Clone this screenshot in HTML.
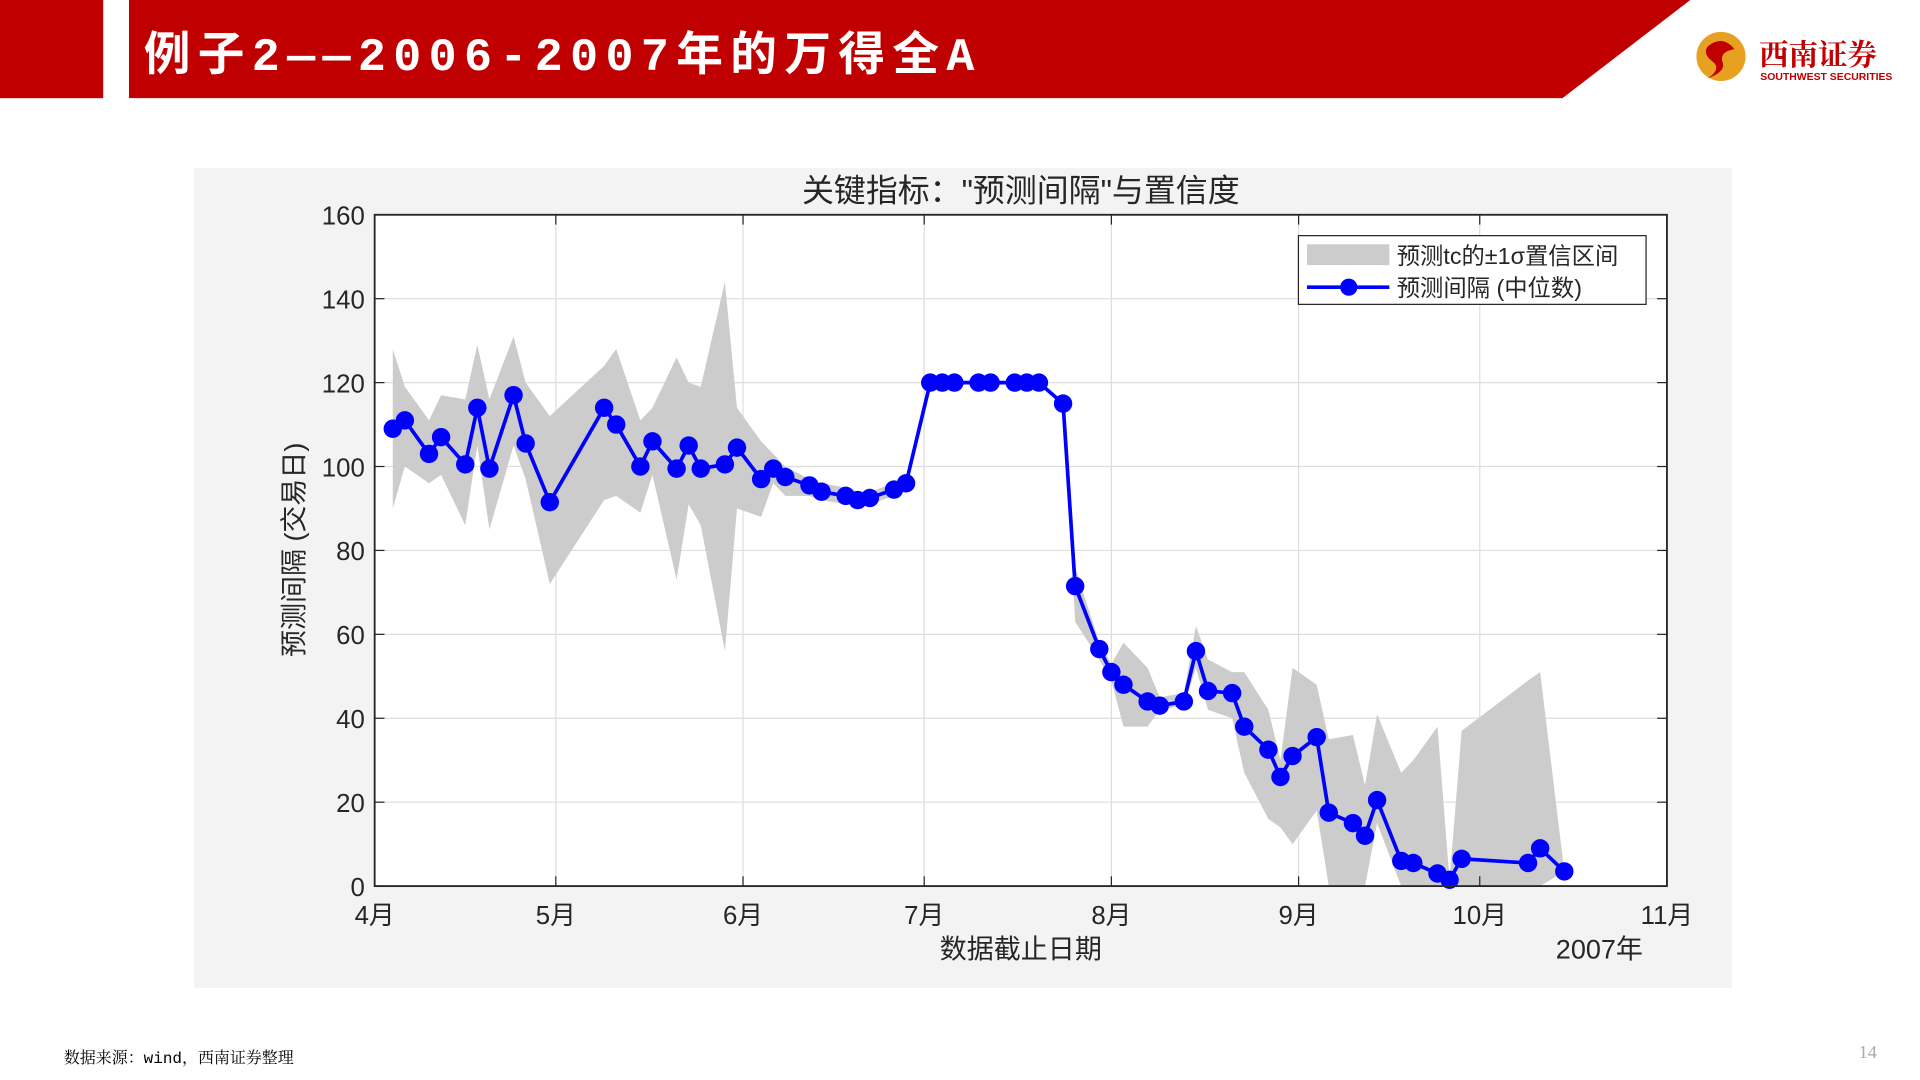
<!DOCTYPE html>
<html><head><meta charset="utf-8"><style>
html,body{margin:0;padding:0;background:#fff;width:1920px;height:1080px;overflow:hidden}
svg{display:block}
text{font-family:"Liberation Sans","Noto Sans CJK SC",sans-serif}
</style></head><body>
<svg id="s" width="1920" height="1080" viewBox="0 0 1563 880" preserveAspectRatio="none" xmlns="http://www.w3.org/2000/svg">
<rect x="0" y="0" width="84" height="80" fill="#c00000"/>
<polygon points="105,0 1376,0 1272,80 105,80" fill="#c00000"/>
<text x="117" y="57" font-size="38" font-weight="bold" fill="#fff" letter-spacing="6" style="font-family:'Liberation Mono','Noto Sans CJK SC',sans-serif">例子2——2006-2007年的万得全A</text>
<g>
<circle cx="1401" cy="46" r="20" fill="#e8a020"/>
<path d="M1390,38 q12,-10 22,2 q-12,2 -10,10 q4,8 -12,14 q12,-8 4,-14 q-8,-6 -4,-12z" fill="#c00000"/>
<text x="1432" y="53" font-size="24" font-weight="bold" fill="#c00000" style="font-family:'Noto Serif CJK SC',serif">西南证券</text>
<text x="1433" y="65" font-size="8.5" font-weight="bold" fill="#c00000">SOUTHWEST SECURITIES</text>
</g>
<rect x="158" y="137" width="1252" height="668" fill="#f3f3f3"/>
<text x="831" y="164" font-size="26" text-anchor="middle" fill="#262626">关键指标："预测间隔"与置信度</text>
<rect x="305" y="175" width="1052" height="547" fill="#fff"/>
<g id="grid"></g>
<g id="band"></g>
<g id="series"></g>
<rect x="305" y="175" width="1052" height="547" fill="none" stroke="#262626" stroke-width="1.5"/>
<g id="axes"></g>
<text transform="translate(247,448) rotate(-90)" font-size="22" text-anchor="middle" fill="#262626">预测间隔 (交易日)</text>
<text x="831" y="781" font-size="22" text-anchor="middle" fill="#262626">数据截止日期</text>
<text x="1302" y="781" font-size="22" text-anchor="middle" fill="#262626">2007年</text>
<g>
<rect x="1057" y="192" width="283" height="56" fill="#fff" stroke="#262626" stroke-width="1"/>
<rect x="1064" y="199" width="67" height="17" fill="#cccccc"/>
<text x="1137" y="215" font-size="19" fill="#262626">预测tc的±1σ置信区间</text>
<line x1="1064" y1="234" x2="1131" y2="234" stroke="#0000ff" stroke-width="3"/>
<circle cx="1098" cy="234" r="7" fill="#0000ff"/>
<text x="1137" y="241" font-size="19" fill="#262626">预测间隔 (中位数)</text>
</g>
<text x="52" y="866" font-size="13" fill="#000" style="font-family:'Liberation Mono','Noto Serif CJK SC',serif">数据来源：wind，西南证券整理</text>
<text x="1513" y="862" font-size="15" fill="#aaa" style="font-family:'Liberation Serif',serif">14</text>
</svg>
<script>
const days=[3,5,9,11,15,17,19,23,25,29,38,40,44,46,50,52,54,58,60,64,66,68,72,74,78,80,82,86,88,92,94,96,100,102,106,108,110,114,116,120,122,124,128,130,134,136,138,142,144,148,150,152,156,158,162,164,166,170,172,176,178,180,191,193,197];
const median=[109,111,103,107,100.5,114,99.5,117,105.5,91.5,114,110,100,106,99.5,105,99.5,100.5,104.5,97,99.5,97.5,95.5,94,93,92,92.5,94.5,96,120,120,120,120,120,120,120,120,115,71.5,56.5,51,48,44,43,44,56,46.5,46,38,32.5,26,31,35.5,17.5,15,12,20.5,6,5.5,3,1.5,6.5,5.5,9,3.5];
const upper=[128,119,111,117,116,129,116,131,120,112,124,128,111,114,126,120,119,144,114,106,103,100,97,96,95,94,94,96,97,120,120,120,120,120,120,120,120,115,76,58,53,58,52,45,46,62,54,51,51,42,30,52,48,35,36,24,41,27,30,38,1.5,37,49,51,3.5];
const lower=[90,100,96,98,86,105,85,105,97,72,92,93,89,98,73,91,86,56,90,88,96,93,93,92,91,91,91,93,95,120,120,120,120,120,120,120,120,115,63,54,49,38,38,42,43,52,42,40,27,16,14,10,18,0,0,0,15,0,0,0,0,0,0,0,3.5];
const yTicks=[0,20,40,60,80,100,120,140,160];
const xTickDays=[0,30,61,91,122,153,183,214];
const xTickLabels=['4月','5月','6月','7月','8月','9月','10月','11月'];
const NS='http://www.w3.org/2000/svg';
const X0=305,X1=1357,Y0=722,Y1=175;
const xs=d=>X0+(d/214)*(X1-X0);
const ys=v=>Y0-(v/160)*(Y0-Y1);
function mk(tag,attrs,parent){const e=document.createElementNS(NS,tag);for(const k in attrs)e.setAttribute(k,attrs[k]);document.getElementById(parent).appendChild(e);return e;}
yTicks.forEach((v,i)=>{
 const g=mk('line',{x1:X0,x2:X1,y1:ys(v),y2:ys(v),stroke:'#dedede','stroke-width':1},'grid');
 
 
 mk('line',{x1:X0,x2:X0+8,y1:ys(v),y2:ys(v),stroke:'#262626'},'axes');
 mk('line',{x1:X1,x2:X1-8,y1:ys(v),y2:ys(v),stroke:'#262626'},'axes');
 const t=mk('text',{x:X0-8,y:ys(v)+8,'font-size':21,'text-anchor':'end',fill:'#262626'},'axes');
 t.textContent=v;
 
 
});
xTickDays.forEach((d,i)=>{
 const g=mk('line',{x1:xs(d),x2:xs(d),y1:Y0,y2:Y1,stroke:'#dedede','stroke-width':1},'grid');
 
 
 mk('line',{x1:xs(d),x2:xs(d),y1:Y0,y2:Y0-8,stroke:'#262626'},'axes');
 mk('line',{x1:xs(d),x2:xs(d),y1:Y1,y2:Y1+8,stroke:'#262626'},'axes');
 const t=mk('text',{x:xs(d),y:Y0+31,'font-size':21,'text-anchor':'middle',fill:'#262626'},'axes');
 t.textContent=xTickLabels[i];
 
 
});
let pts=days.map((d,i)=>xs(d)+','+ys(upper[i]));
for(let i=days.length-1;i>=0;i--)pts.push(xs(days[i])+','+ys(lower[i]));
const band=mk('polygon',{points:pts.join(' '),fill:'#cccccc'},'band');


const line=mk('polyline',{points:days.map((d,i)=>xs(d)+','+ys(median[i])).join(' '),fill:'none',stroke:'#0000ff','stroke-width':3},'series');


days.forEach((d,i)=>{
 const c=mk('circle',{cx:xs(d),cy:ys(median[i]),r:7.5,fill:'#0000ff'},'series');
 
 
});
</script>
</body></html>
